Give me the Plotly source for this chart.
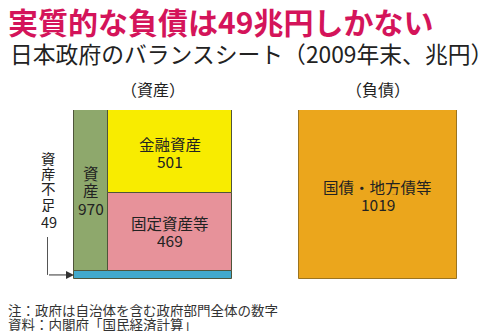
import plotly.graph_objects as go

# Government balance sheet, end of 2009 (trillion yen)
asset_total = 970        # 資産
financial_assets = 501   # 金融資産
fixed_assets = 469       # 固定資産等
shortfall = 49           # 資産不足
liabilities = 1019       # 国債・地方債等

header_labels = ["（資産）", "（負債）"]
shortfall_label = ["資", "産", "不", "足", "49"]

FONT = "Noto Sans CJK JP"
W, H = 494, 336
TEXT = "#222222"
EDGE_L = "#4f553a"
EDGE_R = "#9b7420"

fig = go.Figure()

# Column geometry on a pixel-like x axis (0..W)
left_x0, split_x, left_x1 = 74, 108, 231.5
right_x0, right_x1 = 299, 456.7


def bar(x0, x1, base, value, color, edge):
    fig.add_trace(go.Bar(
        x=[(x0 + x1) / 2], y=[value], base=[base], width=[x1 - x0],
        marker=dict(color=color, line=dict(color=edge, width=1)),
        hoverinfo="skip", showlegend=False,
    ))


# Asset side
bar(left_x0, left_x1, 0, shortfall, "#42a9cc", EDGE_L)
bar(left_x0, split_x, shortfall, asset_total, "#8ea86c", EDGE_L)
bar(split_x, left_x1, shortfall, fixed_assets, "#e7929a", EDGE_L)
bar(split_x, left_x1, shortfall + fixed_assets, financial_assets, "#f8ec00", EDGE_L)
# Liability side
bar(right_x0, right_x1, 0, liabilities, "#eba61c", EDGE_R)

annotations = []


def stacked_label(x, y, lines, size, spacing):
    n = len(lines)
    for i, t in enumerate(lines):
        annotations.append(dict(
            x=x, y=y, xref="x", yref="y", text=t, showarrow=False,
            xanchor="center", yanchor="middle", height=spacing, borderpad=0,
            yshift=((n - 1) / 2 - i) * spacing,
            font=dict(family=FONT, size=size, color=TEXT),
        ))


stacked_label((split_x + left_x1) / 2, shortfall + fixed_assets + financial_assets / 2,
              ["金融資産", str(financial_assets)], 15.5, 17)
stacked_label((split_x + left_x1) / 2, shortfall + fixed_assets / 2,
              ["固定資産等", str(fixed_assets)], 15.5, 16.5)
stacked_label((left_x0 + split_x) / 2, shortfall + asset_total / 2,
              ["資", "産", str(asset_total)], 15.5, 17.5)
stacked_label((right_x0 + right_x1) / 2, liabilities / 2,
              ["国債・地方債等", str(liabilities)], 15.5, 17)


def py(p):
    return 1 - p / H


def text_at(x, y_px, t, size, color, anchor="center", height=None):
    d = dict(x=x, y=py(y_px), xref="x", yref="paper", text=t, showarrow=False,
             xanchor=anchor, yanchor="middle", borderpad=0,
             font=dict(family=FONT, size=size, color=color))
    if height:
        d["height"] = height
    annotations.append(d)


# Column headers
for cx, t in zip([(left_x0 + left_x1) / 2, (right_x0 + right_x1) / 2], header_labels):
    text_at(cx, 89, t, 16, TEXT)

# Vertical shortfall label
for i, t in enumerate(shortfall_label):
    text_at(48.5, 158 + i * 15.4 + (2 if i == 4 else 0), t, 14.5, TEXT, height=15)

# Arrow pointing to the shortfall strip
annotations.append(dict(x=left_x0, y=shortfall / 2, ax=47.5, ay=shortfall / 2,
                        xref="x", yref="y", axref="x", ayref="y", text="",
                        showarrow=True, arrowhead=2, arrowsize=1.6, arrowwidth=1,
                        arrowcolor="#333333", standoff=0))

# Title, subtitle and notes
text_at(7, 21, "<b>実質的な負債は49兆円しかない</b>", 30, "#d4145a", anchor="left")
text_at(9, 54, "日本政府のバランスシート（2009年末、兆円）", 22.8, "#222222", anchor="left")
text_at(7, 310, "注：政府は自治体を含む政府部門全体の数字", 13.5, "#333333", anchor="left", height=14)
text_at(7, 323.5, "資料：内閣府「国民経済計算」", 13.5, "#333333", anchor="left", height=14)

bottom_px, top_px = 279, 110
fig.update_layout(
    width=W, height=H, margin=dict(l=0, r=0, t=0, b=0),
    paper_bgcolor="white", plot_bgcolor="white",
    barmode="overlay", bargap=0,
    xaxis=dict(range=[0, W], visible=False, fixedrange=True),
    yaxis=dict(range=[0, liabilities], domain=[py(bottom_px), py(top_px)],
               visible=False, fixedrange=True),
    annotations=annotations,
    shapes=[dict(type="line", xref="x", yref="paper", x0=47.5, x1=47.5,
                 y0=py(237), y1=py(bottom_px - (shortfall / liabilities) * (bottom_px - top_px) / 2),
                 line=dict(color="#555555", width=1))],
)

fig.write_html("out.html")
